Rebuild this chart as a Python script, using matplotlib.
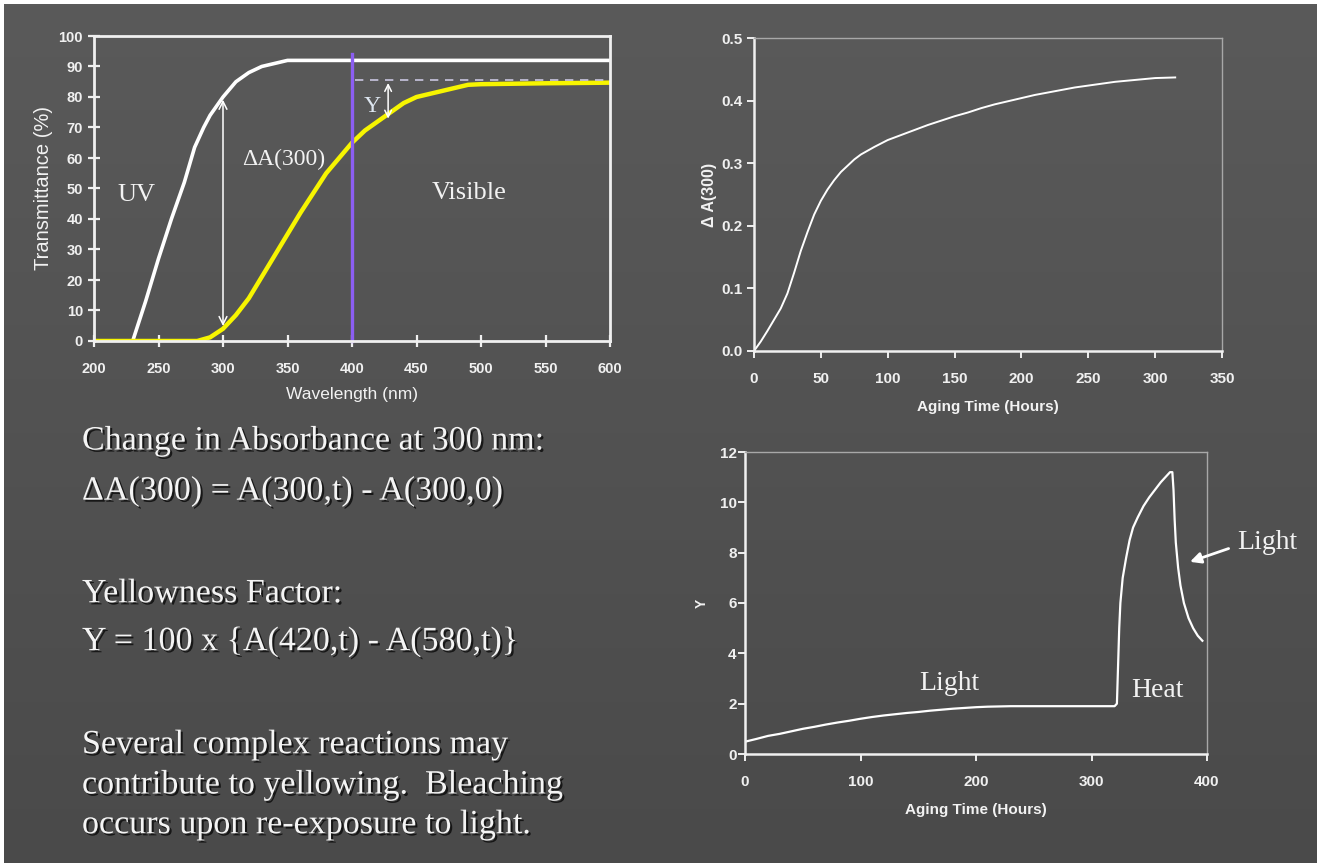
import numpy as np
import matplotlib
matplotlib.use("Agg")
import matplotlib.pyplot as plt
import matplotlib.patheffects as pe

# transmittance spectra (before / after aging)
wl_clear = [230, 240, 250, 260, 270, 278, 285, 290, 300, 310, 320, 330, 340, 350, 600]
t_clear = [0, 13, 27, 40, 52, 63.5, 70, 74, 80, 85, 88, 90, 91, 92, 92]
wl_aged = [200, 280, 290, 300, 310, 320, 330, 340, 350, 360, 370, 380, 390, 400,
           410, 420, 430, 440, 450, 460, 470, 480, 490, 500, 550, 600]
t_aged = [0, 0, 1.2, 4, 8.5, 14, 21, 28, 35, 42, 48.5, 55, 60, 65,
          69, 72, 75, 78, 80, 81, 82, 83, 84, 84.2, 84.5, 84.7]

# delta A(300) vs aging time
hours_a = [0, 5, 10, 15, 20, 25, 30, 35, 40, 45, 50, 55, 60, 65, 70, 75, 80, 90, 100,
           110, 120, 130, 140, 150, 160, 170, 180, 190, 200, 210, 220, 230, 240, 250,
           260, 270, 280, 290, 300, 315]
dA300 = [0, 0.015, 0.032, 0.05, 0.068, 0.092, 0.125, 0.16, 0.19, 0.218, 0.24, 0.258,
         0.273, 0.286, 0.296, 0.306, 0.314, 0.326, 0.337, 0.345, 0.353, 0.361, 0.368,
         0.375, 0.381, 0.388, 0.394, 0.399, 0.404, 0.409, 0.413, 0.417, 0.421, 0.424,
         0.427, 0.43, 0.432, 0.434, 0.436, 0.437]

# yellowness factor vs aging time (light, then heat, then light)
hours_y = [1, 10, 20, 30, 40, 50, 60, 70, 80, 90, 100, 110, 120, 130, 140, 150, 160, 170,
           180, 190, 200, 210, 220, 230, 250, 270, 290, 310, 320, 322, 323, 324, 325, 327,
           330, 333, 336, 340, 345, 350, 355, 360, 365, 368, 370, 371, 372, 373, 375, 377,
           380, 384, 388, 392, 396]
yellow = [0.5, 0.6, 0.72, 0.8, 0.9, 1.0, 1.08, 1.17, 1.25, 1.32, 1.4, 1.47, 1.53, 1.58,
          1.63, 1.67, 1.72, 1.76, 1.8, 1.83, 1.86, 1.88, 1.89, 1.9, 1.9, 1.9, 1.9, 1.9, 1.9,
          2.0, 3.5, 5.0, 6.0, 7.0, 7.8, 8.5, 9.0, 9.4, 9.85, 10.2, 10.5, 10.8, 11.05, 11.2,
          11.2, 10.5, 9.3, 8.4, 7.4, 6.7, 6.0, 5.4, 5.0, 4.7, 4.5]

notes = ["Change in Absorbance at 300 nm:",
         "\u0394A(300) = A(300,t) - A(300,0)",
         "",
         "Yellowness Factor:",
         "Y = 100 x {A(420,t) - A(580,t)}",
         "",
         "Several complex reactions may",
         "contribute to yellowing.  Bleaching",
         "occurs upon re-exposure to light."]

W, H = 1325, 863
fig = plt.figure(figsize=(W / 100, H / 100), dpi=100, facecolor="white")

# slide background, slight vertical gradient
bg = fig.add_axes([4 / W, 0, 1313 / W, 859 / H])
grad = np.linspace(0x5a, 0x4a, 256).reshape(-1, 1) / 255.0
bg.imshow(np.dstack([grad, grad, grad]), aspect="auto", extent=[0, 1, 0, 1])
bg.set_axis_off()

narrow = ["Liberation Sans Narrow", "Liberation Sans"]
serif = ["Liberation Serif", "DejaVu Serif"]
fg = "#f2f2f2"


def frac(l, t, r, b):
    return [l / W, (H - b) / H, (r - l) / W, (b - t) / H]


# ---- transmittance chart ----
ax1 = fig.add_axes(frac(94, 36, 610, 341))
ax1.patch.set_alpha(0)
ax1.plot(wl_clear, t_clear, color="white", lw=2.6, solid_capstyle="butt")
ax1.plot(wl_aged, t_aged, color="#f7f500", lw=3.2)
ax1.plot([400, 400], [0, 94], color="#8c5ef2", lw=2.4, clip_on=False)
ax1.plot([402, 600], [85.5, 85.5], color="#c9c6e0", lw=1.2, ls=(0, (5, 4)))
ax1.annotate("", xy=(300, 80), xytext=(300, 4),
             arrowprops=dict(arrowstyle="<->", color="white", lw=1.1, mutation_scale=14))
ax1.annotate("", xy=(428, 85.5), xytext=(428, 72),
             arrowprops=dict(arrowstyle="<->", color="white", lw=1.1, mutation_scale=12))
ax1.text(233, 48, "UV", family=serif, fontsize=19, color=fg, ha="center", va="center")
ax1.text(347, 59.5, "\u0394A(300)", family=serif, fontsize=17, color=fg, ha="center", va="center")
ax1.text(491, 48.5, "Visible", family=serif, fontsize=19, color=fg, ha="center", va="center")
ax1.text(416, 77, "Y", family=serif, fontsize=17, color="#dde6f0", ha="center", va="center")
ax1.set_xlim(200, 600)
ax1.set_ylim(0, 100)
ax1.set_xticks(range(200, 601, 50))
ax1.set_yticks(range(0, 101, 10))
for s in ax1.spines.values():
    s.set_color("#f0f0f0")
    s.set_linewidth(2)
ax1.tick_params(direction="inout", length=8, width=1.6, colors="#f0f0f0", pad=4)
ax1.tick_params(axis="x", pad=11)
for lab in ax1.get_xticklabels() + ax1.get_yticklabels():
    lab.set_family(narrow)
    lab.set_fontsize(10.5)
    lab.set_fontweight("bold")
ax1.set_xlabel("Wavelength (nm)", family=narrow, fontsize=12.5, color=fg, labelpad=8)
ax1.set_ylabel("Transmittance (%)", family=narrow, fontsize=14.5, color=fg, labelpad=4)


def style_time_axes(ax):
    ax.patch.set_alpha(0)
    for side in ["left", "bottom"]:
        ax.spines[side].set_color("#f0f0f0")
        ax.spines[side].set_linewidth(1.8)
    for side in ["top", "right"]:
        ax.spines[side].set_color("#a8a8a8")
        ax.spines[side].set_linewidth(1)
    ax.tick_params(direction="out", length=5, width=1.4, colors="#f0f0f0")
    ax.tick_params(axis="x", pad=10)
    ax.tick_params(axis="y", pad=3)
    for lab in ax.get_xticklabels() + ax.get_yticklabels():
        lab.set_family(narrow)
        lab.set_fontsize(11)
        lab.set_fontweight("bold")
    ax.set_xlabel("Aging Time (Hours)", family=narrow, fontsize=11, fontweight="bold",
                  color=fg, labelpad=10)


# ---- delta A(300) chart ----
ax2 = fig.add_axes(frac(754, 38, 1222, 351))
ax2.plot(hours_a, dA300, color="white", lw=1.4)
ax2.set_xlim(0, 350)
ax2.set_ylim(0, 0.5)
ax2.set_xticks(range(0, 351, 50))
ax2.set_yticks(np.arange(0, 0.51, 0.1))
ax2.yaxis.set_major_formatter(matplotlib.ticker.FormatStrFormatter("%.1f"))
style_time_axes(ax2)
ax2.set_ylabel("\u0394 A(300)", family=narrow, fontsize=11.5, fontweight="bold", color=fg, labelpad=3)

# ---- yellowness chart ----
ax3 = fig.add_axes(frac(745, 452, 1207, 754))
ax3.plot(hours_y, yellow, color="white", lw=1.6)
ax3.set_xlim(0, 400)
ax3.set_ylim(0, 12)
ax3.set_xticks(range(0, 401, 100))
ax3.set_yticks(range(0, 13, 2))
style_time_axes(ax3)
ax3.tick_params(axis="y", pad=1)
ax3.set_ylabel("Y", family=narrow, fontsize=10, fontweight="bold", color=fg, labelpad=8)
ax3.text(177, 2.82, "Light", family=serif, fontsize=20, color=fg, ha="center", va="center")
ax3.text(357, 2.54, "Heat", family=serif, fontsize=20, color=fg, ha="center", va="center")
ax3.text(452, 8.4, "Light", family=serif, fontsize=20, color=fg, ha="center", va="center",
         clip_on=False)
ax3.annotate("", xy=(383, 7.6), xytext=(421, 8.2), annotation_clip=False,
             arrowprops=dict(arrowstyle="-|>", color="white", lw=2, mutation_scale=16))

# ---- notes on the left ----
shadow = [pe.SimplePatchShadow(offset=(1.5, -1.5), shadow_rgbFace="black", alpha=0.7), pe.Normal()]
y0, dy = 441, 50.5
for i, line in enumerate(notes):
    if i >= 6:
        y = 745 + (i - 6) * 40
    elif i >= 3:
        y = 594 + (i - 3) * 48
    else:
        y = y0 + i * dy
    if line:
        fig.text(82 / W, 1 - y / H, line, family=serif, fontsize=24.5, color="#f4f4f4",
                 ha="left", va="center", path_effects=shadow)

fig.savefig("out.png", dpi=100, facecolor=fig.get_facecolor())
